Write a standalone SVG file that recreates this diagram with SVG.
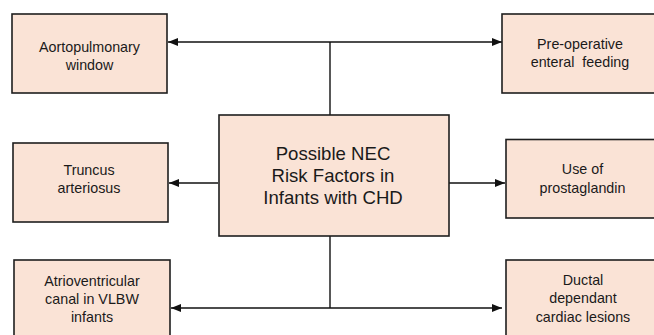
<svg xmlns="http://www.w3.org/2000/svg" width="654" height="335" viewBox="0 0 654 335">
<defs>
<style>
.box{fill:#fae3d6;stroke:#1e1e1e;stroke-width:1.6}
.t{font-family:"Liberation Sans",Arial,Helvetica,sans-serif;font-size:14.3px;fill:#1a1a1a;text-anchor:middle}
.tc{font-family:"Liberation Sans",Arial,Helvetica,sans-serif;font-size:18.6px;fill:#1a1a1a;text-anchor:middle}
.ln{fill:none;stroke:#111;stroke-width:1.4}
</style>
<marker id="ah" markerUnits="userSpaceOnUse" markerWidth="10" markerHeight="8" viewBox="0 0 10 8" refX="10" refY="4" orient="auto">
<path d="M0,0 L10,4 L0,8 Z" fill="#111"/>
</marker>
</defs>
<rect width="654" height="335" fill="#fff"/>
<g id="connectors">
<path class="ln" d="M330,115 V42"/>
<path class="ln" d="M330,42 H168" marker-end="url(#ah)"/>
<path class="ln" d="M330,42 H502" marker-end="url(#ah)"/>
<path class="ln" d="M218,183 H169" marker-end="url(#ah)"/>
<path class="ln" d="M449,183 H505" marker-end="url(#ah)"/>
<path class="ln" d="M330,236 V308"/>
<path class="ln" d="M330,308 H171" marker-end="url(#ah)"/>
<path class="ln" d="M330,308 H502" marker-end="url(#ah)"/>
</g>
<g id="center">
<rect class="box" x="219" y="115" width="230" height="121"/>
<text class="tc" x="333" y="160">Possible NEC</text>
<text class="tc" x="333" y="182">Risk Factors in</text>
<text class="tc" x="333" y="203.5">Infants with CHD</text>
</g>
<g id="aortopulmonary">
<rect class="box" x="12" y="14" width="155" height="79"/>
<text class="t" x="89.5" y="52">Aortopulmonary</text>
<text class="t" x="89.5" y="69.5">window</text>
</g>
<g id="preoperative">
<rect class="box" x="502" y="14" width="160" height="79"/>
<text class="t" x="580" y="49">Pre-operative</text>
<text class="t" x="580" y="67" xml:space="preserve">enteral  feeding</text>
</g>
<g id="truncus">
<rect class="box" x="13" y="143" width="155" height="79"/>
<text class="t" x="89" y="175">Truncus</text>
<text class="t" x="89" y="193">arteriosus</text>
</g>
<g id="prostaglandin">
<rect class="box" x="506" y="139.5" width="160" height="78.5"/>
<text class="t" x="582.5" y="174">Use of</text>
<text class="t" x="582.5" y="193">prostaglandin</text>
</g>
<g id="atrioventricular">
<rect class="box" x="14" y="260" width="156" height="85"/>
<text class="t" x="92" y="286">Atrioventricular</text>
<text class="t" x="92" y="304">canal in VLBW</text>
<text class="t" x="92" y="322">infants</text>
</g>
<g id="ductal">
<rect class="box" x="506" y="260" width="160" height="85"/>
<text class="t" x="583" y="285">Ductal</text>
<text class="t" x="583" y="303">dependant</text>
<text class="t" x="583" y="322">cardiac lesions</text>
</g>
</svg>
